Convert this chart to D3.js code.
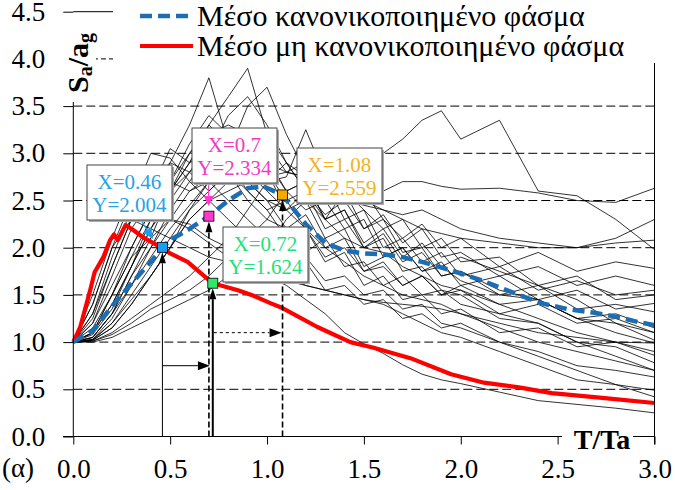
<!DOCTYPE html>
<html>
<head>
<meta charset="utf-8">
<script src="https://cdnjs.cloudflare.com/ajax/libs/d3/7.8.5/d3.min.js"></script>
<style>
  .serif { font-family: "Liberation Serif", "Nimbus Roman", "FreeSerif", "Tinos", serif !important; }
</style>
</head>
<body style="margin:0">
<svg id="chart" width="675" height="490" font-family="Liberation Serif"></svg>
<script>
// periods (T/Ta) shared by the individual normalized spectra
var T = [0, 0.1, 0.2, 0.3, 0.4, 0.5, 0.6, 0.7, 0.8, 0.9, 1.0, 1.1, 1.2, 1.3, 1.4, 1.5, 1.6, 1.7, 1.8, 1.9, 2.0, 2.2, 2.4, 2.6, 2.8, 3.0];

var s01 = [1.0,1.05,1.3,1.7,2.1,2.6,3.0,3.3,3.6,3.9,3.2,2.9,2.6,2.3,2.1,2.0,1.95,1.8,1.7,1.6,1.55,1.4,1.25,1.1,1.0,0.99];
var s02 = [1.0,1.1,1.5,2.0,2.4,2.9,3.3,3.8,3.1,2.7,2.5,2.4,2.2,2.0,1.85,1.7,1.6,1.5,1.45,1.4,1.3,1.15,1.0,0.9,0.8,0.7];
var s03 = [1.0,1.02,1.15,1.4,1.7,2.0,2.3,2.5,2.7,2.8,2.7,2.75,3.25,2.75,2.6,2.5,2.4,2.3,2.2,2.15,2.1,2.05,2.0,2.0,2.05,2.08];
var s04 = [1.0,1.03,1.2,1.45,1.7,2.0,2.3,2.5,2.6,2.7,2.75,2.8,2.75,2.65,2.75,2.9,3.0,3.15,3.35,3.45,3.15,3.35,2.6,2.55,2.3,1.98];
var s05 = [1.0,1.05,1.3,1.6,1.9,2.2,2.45,2.7,2.9,3.0,2.9,2.8,2.75,2.6,2.55,2.5,2.6,2.7,2.7,2.65,2.62,2.63,2.58,2.5,2.48,2.63];
var s06 = [1.0,1.4,2.0,2.5,3.0,2.95,2.7,2.5,2.3,2.1,2.0,1.85,1.9,1.65,1.7,1.5,1.55,1.35,1.4,1.2,1.15,1.0,0.9,0.75,0.7,0.63];
var s07 = [1.0,1.3,1.8,2.3,2.6,3.05,2.9,3.0,2.8,2.6,2.4,2.5,2.2,1.9,2.0,1.75,1.8,1.6,1.7,1.5,1.55,1.3,1.4,1.2,1.25,1.1];
var s08 = [1.0,1.2,1.6,2.0,2.4,2.7,3.1,3.4,3.2,3.0,2.8,2.4,2.5,2.1,2.2,1.8,1.9,2.0,1.75,1.85,1.6,1.7,1.45,1.55,1.35,1.41];
var s09 = [1.0,1.1,1.4,1.8,2.2,2.5,2.8,3.0,3.4,3.6,3.3,2.9,2.6,2.7,2.3,2.4,2.0,2.1,1.85,1.95,1.7,1.8,1.55,1.65,1.5,1.55];
var s10 = [1.0,1.02,1.15,1.4,1.7,2.0,2.4,2.7,3.0,3.5,3.7,3.2,2.8,2.9,2.5,2.6,2.3,2.1,2.25,2.0,2.1,1.8,1.95,1.75,1.85,1.78];
var s11 = [1.0,1.5,2.1,2.6,2.4,2.3,2.25,2.1,2.0,1.9,1.8,1.7,1.6,1.55,1.5,1.45,1.4,1.3,1.2,1.1,1.05,0.9,0.75,0.6,0.55,0.49];
var s12 = [1.0,1.0,1.05,1.15,1.25,1.35,1.45,1.55,1.7,1.85,2.0,2.3,2.5,2.3,2.6,2.4,2.2,2.3,2.0,2.1,1.85,1.9,1.6,1.7,1.45,1.5];
var s13 = [1.0,1.01,1.08,1.2,1.35,1.45,1.55,1.7,1.9,2.1,2.3,2.6,2.4,2.5,2.2,2.3,1.9,2.0,1.75,1.8,1.65,1.5,1.6,1.35,1.4,1.32];
var s14 = [1.0,1.2,1.7,2.2,2.5,2.6,2.8,3.1,2.9,2.6,2.4,2.1,2.2,1.85,1.95,1.6,1.7,1.45,1.5,1.3,1.35,1.1,1.15,0.95,1.0,0.86];
var s15 = [1.0,1.1,1.5,1.9,2.1,2.3,2.2,2.05,1.9,1.8,1.7,1.6,1.45,1.3,1.1,0.98,0.88,0.76,0.66,0.6,0.56,0.47,0.38,0.34,0.3,0.25];
var s16 = [1.0,1.3,1.9,2.4,2.8,2.7,2.6,2.7,2.5,2.3,2.1,1.8,1.85,1.55,1.6,1.4,1.45,1.25,1.3,1.15,1.2,1.0,0.85,0.7,0.55,0.42];
var s17 = [1.0,1.15,1.5,1.9,2.3,2.6,2.9,3.2,3.3,3.2,2.9,2.6,2.7,2.3,2.4,2.05,2.2,1.9,2.05,1.8,1.9,1.75,1.6,1.45,1.2,1.02];
var s18 = [1.0,1.05,1.3,1.7,2.0,2.4,2.7,3.0,2.8,2.9,2.8,2.5,2.6,2.2,2.3,2.0,2.15,1.85,1.95,1.7,1.75,1.5,1.45,1.25,1.2,1.1];
var s19 = [1.0,1.02,1.2,1.5,1.8,2.1,2.4,2.6,2.8,3.0,3.1,2.8,2.9,2.5,2.6,2.2,2.3,1.95,2.0,1.7,1.75,1.55,1.45,1.25,1.1,0.99];
var s20 = [1.0,1.25,1.8,2.3,2.7,2.9,2.8,2.6,2.8,2.5,2.3,2.2,1.95,2.1,1.8,1.85,1.6,1.7,1.5,1.55,1.4,1.3,1.2,1.0,0.85,0.7];
var s21 = [1.0,1.1,1.4,1.8,2.2,2.6,2.9,3.3,3.1,2.8,2.6,2.4,2.6,2.35,2.5,2.2,2.35,2.05,2.2,1.9,1.95,1.7,1.8,1.6,1.7,1.6];
var s22 = [1.0,1.03,1.25,1.6,2.0,2.3,2.6,2.75,2.9,3.1,2.95,2.6,2.7,2.3,2.4,2.0,2.1,1.75,1.8,1.55,1.5,1.25,1.2,1.0,0.95,0.78];
var s23 = [1.0,1.01,1.1,1.25,1.4,1.55,1.7,1.9,2.1,2.4,2.7,2.9,2.75,2.6,2.5,2.45,2.4,2.35,2.4,2.3,2.2,2.1,2.05,2.0,2.1,2.3];
var s24 = [1.0,1.4,2.0,2.3,2.2,2.1,2.0,1.9,1.85,1.8,1.7,1.65,1.6,1.55,1.5,1.45,1.42,1.4,1.38,1.35,1.3,1.2,1.1,1.05,1.0,0.9];
var s25 = [1.0,1.08,1.35,1.8,2.3,2.7,3.0,3.2,3.0,2.7,2.5,2.2,2.35,2.0,2.1,1.75,1.85,1.6,1.7,1.5,1.6,1.4,1.45,1.25,1.3,1.15];
var spectra = [s01,s02,s03,s04,s05,s06,s07,s08,s09,s10,s11,s12,s13,s14,s15,s16,s17,s18,s19,s20,s21,s22,s23,s24,s25];

// mean normalized spectrum (blue dashed)
var meanNormT = [0,0.1,0.2,0.3,0.4,0.46,0.5,0.6,0.7,0.8,0.9,0.98,1.08,1.14,1.2,1.3,1.4,1.5,1.6,1.7,1.8,1.95,2.1,2.2,2.3,2.42,2.55,2.69,2.8,2.92,3.0];
var meanNormV = [1.0,1.12,1.38,1.62,1.85,2.004,2.08,2.2,2.334,2.5,2.63,2.65,2.559,2.4,2.25,2.05,1.97,1.94,1.93,1.9,1.85,1.76,1.66,1.58,1.5,1.41,1.35,1.31,1.27,1.21,1.18];

// mean non-normalized spectrum (red)
var meanRawT = [0,0.036,0.087,0.11,0.155,0.19,0.21,0.23,0.27,0.3,0.36,0.43,0.5,0.59,0.67,0.72,0.85,0.92,1.02,1.07,1.26,1.43,1.55,1.74,1.95,2.12,2.3,2.47,2.73,3.0];
var meanRawV = [1.0,1.16,1.55,1.74,1.9,2.08,2.14,2.08,2.24,2.2,2.11,2.03,1.94,1.85,1.71,1.624,1.55,1.5,1.41,1.37,1.16,1.0,0.94,0.83,0.66,0.57,0.52,0.46,0.41,0.355];

// annotated points
var markX = [0.46, 0.7, 1.08, 0.72];
var markY = [2.004, 2.334, 2.559, 1.624];
var markFill = ["#1a9ff0", "#ff3acb", "#f5a800", "#2ee86a"];
var markText = ["#27a2e2", "#f03cc4", "#f2b31c", "#1fe07a"];

var xTicks = [0, 0.5, 1.0, 1.5, 2.0, 2.5, 3.0];
var yTicks = [0, 0.5, 1.0, 1.5, 2.0, 2.5, 3.0, 3.5, 4.0, 4.5];
var gridVals = [0.5, 1.0, 1.5, 2.0, 2.5, 3.0, 3.5];

var legendText = ["Μέσο κανονικοποιημένο φάσμα", "Μέσο μη κανονικοποιημένο φάσμα"];

var svg = d3.select("#chart");
var x = d3.scaleLinear().domain([0, 3]).range([73.3, 654.5]);
var y = d3.scaleLinear().domain([0, 4.5]).range([436.5, 11.7]);

// every text goes through here so the serif face is set three ways
function txt(sel, size, weight) {
  sel.attr("class", "serif")
    .attr("font-family", "Liberation Serif")
    .attr("font-size", size)
    .style("font-family", "'Liberation Serif'");
  if (weight) sel.attr("font-weight", weight);
  return sel;
}

// dashed gridlines
svg.selectAll("line.grid").data(gridVals).enter().append("line")
  .attr("class", "grid")
  .attr("x1", x(0)).attr("x2", x(3))
  .attr("y1", function(d) { return y(d); }).attr("y2", function(d) { return y(d); })
  .attr("stroke", "#000").attr("stroke-width", 1).attr("stroke-dasharray", "9,4");

// individual spectra
var thin = d3.line().x(function(d, i) { return x(T[i]); }).y(function(d) { return y(d); });
svg.append("g").selectAll("path").data(spectra).enter().append("path")
  .attr("d", thin).attr("fill", "none").attr("stroke", "#000").attr("stroke-width", 0.8);

// red mean
var redLine = d3.line().x(function(d, i) { return x(meanRawT[i]); }).y(function(d) { return y(d); });
svg.append("path").datum(meanRawV).attr("d", redLine)
  .attr("fill", "none").attr("stroke", "#ff0000").attr("stroke-width", 4.2).attr("stroke-linejoin", "round");

// blue dashed mean
var blueLine = d3.line().x(function(d, i) { return x(meanNormT[i]); }).y(function(d) { return y(d); });
svg.append("path").datum(meanNormV).attr("d", blueLine)
  .attr("fill", "none").attr("stroke", "#1d6db3").attr("stroke-width", 4.5).attr("stroke-dasharray", "12,6");

// axes
var yAxis = d3.axisLeft(y).tickValues(yTicks).tickSize(10).tickPadding(18).tickFormat(d3.format(".1f"));
var gy = svg.append("g").attr("transform", "translate(" + x(0) + ",0)").call(yAxis);
gy.select(".domain").remove();
gy.attr("font-family", "Liberation Serif").attr("font-size", 27);
txt(gy.selectAll("text"), 27).attr("fill", "#000");

var xAxis = d3.axisBottom(x).tickValues(xTicks).tickSize(8).tickPadding(14).tickFormat(d3.format(".1f"));
var gx = svg.append("g").attr("transform", "translate(0," + y(0) + ")").call(xAxis);
gx.select(".domain").remove();
gx.attr("font-family", "Liberation Serif").attr("font-size", 27);
txt(gx.selectAll("text"), 27).attr("fill", "#000");

svg.append("line").attr("x1", x(0)).attr("x2", x(0)).attr("y1", 60).attr("y2", y(0)).attr("stroke", "#000");
svg.append("line").attr("x1", x(3)).attr("x2", x(3)).attr("y1", 63).attr("y2", y(0) + 8).attr("stroke", "#000");
svg.append("line").attr("x1", 63).attr("x2", 562).attr("y1", y(0)).attr("y2", y(0)).attr("stroke", "#000");
svg.append("line").attr("x1", 633).attr("x2", x(3)).attr("y1", y(0)).attr("y2", y(0)).attr("stroke", "#000");
svg.append("line").attr("x1", x(0)).attr("x2", 113).attr("y1", y(4.5)).attr("y2", y(4.5)).attr("stroke", "#000");
svg.append("line").attr("x1", 93).attr("x2", 113).attr("y1", y(4.0)).attr("y2", y(4.0))
  .attr("stroke", "#000").attr("stroke-dasharray", "5,3");

// y label
svg.append("rect").attr("x", 60).attr("y", 22).attr("width", 36).attr("height", 80).attr("fill", "#fff");
var yl = txt(svg.append("text"), 30, "bold").attr("transform", "translate(88,93) rotate(-90)");
yl.append("tspan").text("S");
yl.append("tspan").attr("font-size", 20).attr("dy", 4).text("a");
yl.append("tspan").attr("dy", -4).text("/a");
yl.append("tspan").attr("font-size", 20).attr("dy", 4).text("g");

// x label
txt(svg.append("text"), 28, "bold").attr("x", 602).attr("y", 449).attr("text-anchor", "middle").text("T/Ta");
txt(svg.append("text"), 27).attr("x", 18).attr("y", 477).attr("text-anchor", "middle").text("(α)");

// arrows
function arrow(x1, y1, x2, y2, color, w, dash, len, half) {
  var dx = x2 - x1, dy = y2 - y1, L = Math.sqrt(dx * dx + dy * dy);
  var ux = dx / L, uy = dy / L;
  var bx = x2 - ux * len, by = y2 - uy * len;
  var ln = svg.append("line").attr("x1", x1).attr("y1", y1).attr("x2", bx).attr("y2", by)
    .attr("stroke", color).attr("stroke-width", w);
  if (dash) ln.attr("stroke-dasharray", dash);
  svg.append("path")
    .attr("d", "M" + x2 + "," + y2 + "L" + (bx - uy * half) + "," + (by + ux * half) +
      "L" + (bx + uy * half) + "," + (by - ux * half) + "Z")
    .attr("fill", color);
}

// vertical lines up to the markers
var vStyle = [{ w: 1, dash: null }, { w: 1.6, dash: "6,3" }, { w: 1.6, dash: "6,3" }, { w: 2, dash: null }];
markX.forEach(function(mx, i) {
  arrow(x(mx), y(0), x(mx), y(markY[i]) + 5, "#000", vStyle[i].w, vStyle[i].dash, 11, 3.5);
});
arrow(x(markX[0]), y(0.75), x(markX[1]) + 1, y(0.75), "#000", 1, null, 12, 4.5);
arrow(x(markX[3]) + 1, y(1.1), x(markX[2]) - 1, y(1.1), "#000", 1, "3,3", 12, 4.5);

// markers
svg.selectAll("rect.mark").data(markX).enter().append("rect")
  .attr("class", "mark")
  .attr("x", function(d) { return x(d) - 5; })
  .attr("y", function(d, i) { return y(markY[i]) - 5; })
  .attr("width", 10).attr("height", 10)
  .attr("fill", function(d, i) { return markFill[i]; })
  .attr("stroke", "#000").attr("stroke-width", 0.8);

// label boxes
var boxes = [[87, 165], [192, 128], [297, 148], [223, 227]];
markX.forEach(function(mx, i) {
  var bx = boxes[i][0], by = boxes[i][1];
  svg.append("rect").attr("x", bx + 2).attr("y", by + 2).attr("width", 85).attr("height", 55).attr("fill", "#aaa");
  svg.append("rect").attr("x", bx).attr("y", by).attr("width", 85).attr("height", 55)
    .attr("fill", "#fff").attr("stroke", "#444").attr("stroke-width", 1);
  var t = txt(svg.append("text"), 21).attr("fill", markText[i]).attr("text-anchor", "middle");
  t.append("tspan").attr("x", bx + 42.5).attr("y", by + 24).text("X=" + mx);
  t.append("tspan").attr("x", bx + 42.5).attr("y", by + 47).text("Y=" + markY[i]);
});
arrow(142, 222, 153, 239, markFill[0], 1.2, null, 11, 5);
arrow(208.6, 185, 208.6, 206, markFill[1], 1.2, null, 10, 5);

// legend
svg.append("line").attr("x1", 140).attr("x2", 193).attr("y1", 16).attr("y2", 16)
  .attr("stroke", "#1d6db3").attr("stroke-width", 4.5).attr("stroke-dasharray", "12,6");
svg.append("line").attr("x1", 140).attr("x2", 193).attr("y1", 46).attr("y2", 46)
  .attr("stroke", "#ff0000").attr("stroke-width", 4.2);
var targets = [390, 433];
legendText.forEach(function(s, i) {
  var t = txt(svg.append("text"), 27).attr("x", 197).attr("y", 26 + i * 30).text(s);
  var w = t.node().getComputedTextLength();
  t.attr("font-size", Math.min(30, 27 * targets[i] / w));
});
</script>
</body>
</html>
